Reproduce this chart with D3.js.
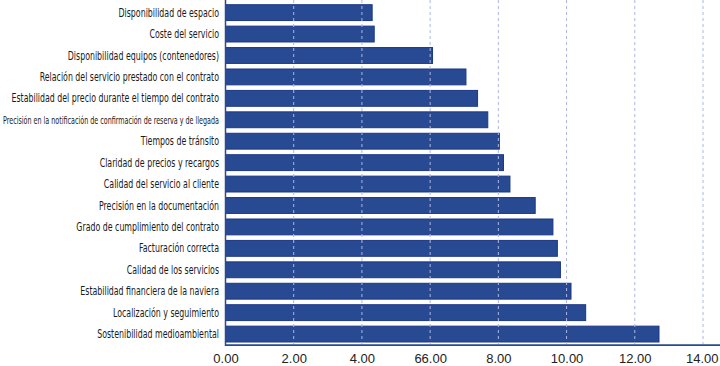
<!DOCTYPE html>
<html>
<head>
<meta charset="utf-8">
<script src="https://cdn.jsdelivr.net/npm/d3@7"></script>
<style>
  body { margin: 0; background: #fff; }
  svg { display: block; }
</style>
</head>
<body>
<svg id="chart" width="720" height="366"></svg>
<script>
// data
const categories = [
  "Disponibilidad de espacio",
  "Coste del servicio",
  "Disponibilidad equipos (contenedores)",
  "Relación del servicio prestado con el contrato",
  "Estabilidad del precio durante el tiempo del contrato",
  "Precisión en la notificación de confirmación de reserva y de llegada",
  "Tiempos de tránsito",
  "Claridad de precios y recargos",
  "Calidad del servicio al cliente",
  "Precisión en la documentación",
  "Grado de cumplimiento del contrato",
  "Facturación correcta",
  "Calidad de los servicios",
  "Estabilidad financiera de la naviera",
  "Localización y seguimiento",
  "Sostenibilidad medioambiental"
];
const values = [4.30, 4.36, 6.07, 7.05, 7.39, 7.69, 8.03, 8.15, 8.34, 9.08, 9.60, 9.73, 9.82, 10.13, 10.56, 12.71];
const tickValues = [0, 2, 4, 6, 8, 10, 12, 14];
const tickLabels = ["0.00", "2.00", "4.00", "66.00", "8.00", "10.00", "12.00", "14.00"];

const svg = d3.select("#chart");
const barColor = "#284a93";
const gridColor = "#aeb6e0";

const x = d3.scaleLinear().domain([0, 14]).range([225.5, 703]);
const y = d3.scaleBand().domain(categories).range([2, 344.7])
  .paddingInner(0.26).paddingOuter(0.126);

// bars
svg.append("g").selectAll("rect").data(values).enter()
  .append("rect")
  .attr("x", x(0))
  .attr("y", (d, i) => y(categories[i]))
  .attr("width", d => x(d) - x(0))
  .attr("height", y.bandwidth())
  .attr("fill", barColor)
  .attr("stroke", "#1c3787")
  .attr("stroke-width", 1);

// dashed grid on top of bars
svg.append("g").selectAll("line").data(tickValues.slice(1)).enter()
  .append("line")
  .attr("x1", d => x(d)).attr("x2", d => x(d))
  .attr("y1", 0).attr("y2", 344)
  .attr("stroke", gridColor)
  .attr("stroke-width", 1)
  .attr("stroke-dasharray", "3,3");

// axes lines
svg.append("line")
  .attr("x1", x(0)).attr("x2", x(0)).attr("y1", 0).attr("y2", 346)
  .attr("stroke", barColor).attr("stroke-width", 1.5);
svg.append("line")
  .attr("x1", x(0)).attr("x2", 720).attr("y1", 345.2).attr("y2", 345.2)
  .attr("stroke", barColor).attr("stroke-width", 1.8);

// x tick labels
const xAxis = d3.axisBottom(x).tickValues(tickValues)
  .tickFormat((d, i) => tickLabels[i]).tickSize(0).tickPadding(0);
const gx = svg.append("g").attr("transform", "translate(0,351)").call(xAxis);
gx.select(".domain").remove();
gx.selectAll("text")
  .attr("font-family", "Liberation Sans, Arial, sans-serif")
  .attr("font-size", 13)
  .attr("fill", "#222")
  .attr("dy", "0.95em");
gx.selectAll(".tick").filter(d => d === 14).select("text").attr("text-anchor", "end").attr("dx", 15);

// category labels, squeezed horizontally to look condensed
const labelScale = 0.76;
const gy = svg.append("g");
gy.selectAll("text").data(categories).enter()
  .append("text")
  .attr("transform", d => `translate(219,${y(d) + y.bandwidth() / 2}) scale(${labelScale},1)`)
  .attr("dy", "0.35em")
  .attr("text-anchor", "end")
  .attr("font-family", "DejaVu Sans Condensed, DejaVu Sans, sans-serif")
  .attr("font-size", 11.5)
  .attr("fill", "#1a1a1a")
  .text(d => d)
  .each(function () {
    const w = this.getComputedTextLength() * labelScale;
    if (w > 216) {
      d3.select(this).attr("font-size", 11)
        .attr("textLength", 216 / labelScale).attr("lengthAdjust", "spacingAndGlyphs");
    }
  });
</script>
</body>
</html>
